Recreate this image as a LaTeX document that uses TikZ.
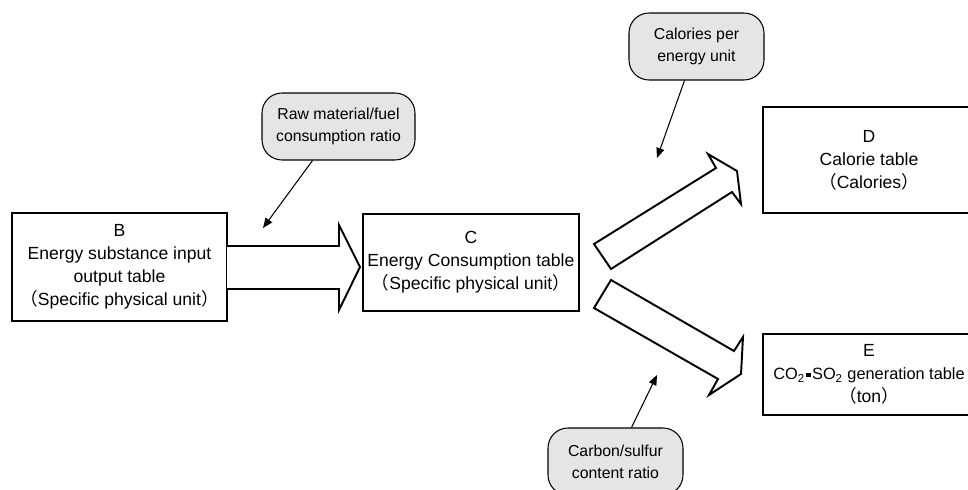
\documentclass[tikz,border=0pt]{standalone}
\usepackage{fontspec}
\setmainfont{Liberation Sans}
\newfontfamily\jpfont{Noto Sans CJK JP}
\usepackage{tikz}
\usetikzlibrary{arrows.meta,positioning,calc}
\newcommand{\jlp}{{\jpfont （}}
\newcommand{\jrp}{{\jpfont ）}}
\newcommand{\sqdot}{\kern0.8pt\raisebox{0.28ex}{\rule{2.4pt}{2.4pt}}\kern0.8pt}

\begin{document}
\begin{tikzpicture}[
  x=0.02cm, y=0.02cm,
  font=\fontsize{10}{13}\selectfont,
  tablebox/.style={draw, line width=1.1pt, align=center, inner sep=0pt},
  ratiobox/.style={draw, line width=0.6pt, rounded corners=0.4cm,
       fill=gray!20, align=center, inner sep=0pt,
       minimum height=1.34cm, font=\fontsize{9}{12.5}\selectfont},
  blockarrow/.style={draw, line width=1.1pt, line join=miter, fill=white},
  pointer/.style={-{Triangle[length=2mm, width=1.6mm]}, line width=0.6pt}
]
\useasboundingbox (0,0) rectangle (968,-490);
\clip (0,0) rectangle (968,-490);
\node[tablebox, minimum width=4.3cm, minimum height=2.16cm]
  (btable) at (119.5,-267)
  {B\\Energy substance input\\output table\\\jlp Specific physical unit\jrp};
\node[tablebox, minimum width=4.32cm, minimum height=1.94cm,
  right=2.68cm of btable, yshift=0.09cm] (ctable)
  {C\\Energy Consumption table\\\jlp Specific physical unit\jrp};
\node[tablebox, minimum width=4.24cm, minimum height=2.12cm]
  (dtable) at (869,-160)
  {D\\Calorie table\\\jlp Calories\jrp};
\node[tablebox, minimum width=4.24cm, minimum height=1.62cm]
  (etable) at (869,-374.5)
  {E\\{\fontsize{9.3}{13}\selectfont CO\textsubscript{2}\sqdot SO\textsubscript{2} generation table}\\\jlp ton\jrp};
\node[ratiobox, minimum width=3.06cm] (rawratio) at (338.5,-126.5)
  {Raw material/fuel\\consumption ratio};
\node[ratiobox, minimum width=2.7cm] (calratio) at (696.5,-46.5)
  {Calories per\\energy unit};
\node[ratiobox, minimum width=2.7cm] (carbratio) at (615.5,-461.5)
  {Carbon/sulfur\\content ratio};
\coordinate (rawtip) at (263,-228);
\coordinate (caltip) at (657,-158);
\coordinate (carbtip) at (657,-375);
\draw[pointer] ($(rawratio.south)+(-26,0)$) -- (rawtip);
\draw[pointer] ($(calratio.south)+(-12,0)$) -- (caltip);
\draw[pointer] ($(carbratio.north)+(16,0)$) -- (carbtip);
% block arrows between the tables
\draw[blockarrow] (227,-246) -- (339,-246) -- (339,-225) -- (360,-267)
  -- (339,-310) -- (339,-289) -- (227,-289);
\draw[blockarrow] (594,-244) -- (716,-168) -- (708,-154) -- (737,-171)
  -- (741,-204) -- (732,-192) -- (611,-269) -- cycle;
\draw[blockarrow] (611,-280) -- (734,-351) -- (743,-337) -- (741,-374)
  -- (709,-395) -- (718,-379) -- (594,-308) -- cycle;
\end{tikzpicture}
\end{document}
